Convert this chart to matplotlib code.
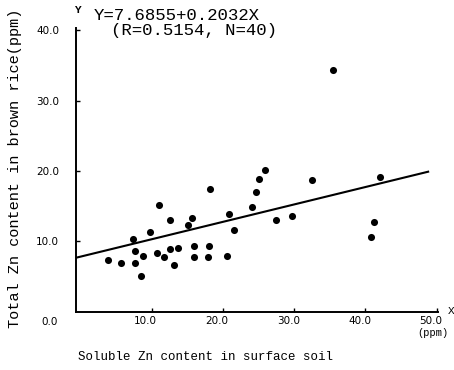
import matplotlib
matplotlib.use("Agg")
import matplotlib.pyplot as plt
from matplotlib.transforms import ScaledTranslation

# Data
soil_zn = [3.8, 5.7, 7.4, 7.6, 7.7, 8.5, 8.8, 9.8, 11.0, 10.7, 11.7, 12.6, 12.5,
           13.1, 13.7, 15.1, 15.7, 16.0, 15.9, 18.2, 18.0, 17.9, 20.6, 20.9, 21.5,
           24.1, 24.7, 25.0, 25.9, 27.5, 29.7, 32.5, 35.5, 42.0, 41.2, 40.8]
rice_zn = [7.4, 7.0, 10.4, 8.6, 7.0, 5.1, 7.9, 11.4, 15.2, 8.4, 7.8, 13.1, 8.9,
           6.7, 9.1, 12.3, 13.3, 9.4, 7.8, 17.4, 9.3, 7.8, 7.9, 13.9, 11.6,
           14.9, 17.0, 18.8, 20.1, 13.0, 13.6, 18.7, 34.3, 19.1, 12.7, 10.7]
line_x = [-0.6, 48.8]
line_y = [7.7, 19.9]
x_ticks = [10, 20, 30, 40, 50]
x_ticklabels = ["10.0", "20.0", "30.0", "40.0", "50.0"]
y_ticks = [10, 20, 30, 40]
y_ticklabels = ["10.0", "20.0", "30.0", "40.0"]

mono = "Liberation Mono"

fig = plt.figure(figsize=(4.54, 3.70), dpi=100)
ax = fig.add_axes([0.167, 0.1568, 0.798, 0.7678])
ax.set_xlim(-0.65, 50.2)
ax.set_ylim(0, 40.3)

ax.scatter(soil_zn, rice_zn, s=26, color="black", zorder=3, linewidths=0)
ax.plot(line_x, line_y, color="black", lw=1.5)

for s in ["top", "right"]:
    ax.spines[s].set_visible(False)
for s in ["left", "bottom"]:
    ax.spines[s].set_linewidth(1.4)

ax.set_xticks(x_ticks)
ax.set_xticklabels(x_ticklabels)
ax.set_yticks(y_ticks)
ax.set_yticklabels(y_ticklabels)
ax.tick_params(direction="in", length=3, width=1, labelsize=7.5)
ax.tick_params(axis="x", pad=3)
ax.tick_params(axis="y", pad=12)
shift = ScaledTranslation(-6 / 100, 0, fig.dpi_scale_trans)
for lab in ax.get_xticklabels():
    lab.set_fontfamily("DejaVu Sans")
    lab.set_transform(lab.get_transform() + shift)
for lab in ax.get_yticklabels():
    lab.set_fontfamily("DejaVu Sans")

# origin label and axis letters
fig.text(50 / 454, 1 - 322 / 370, "0.0", fontsize=7.5, ha="center", va="center")
fig.text(433 / 454, 1 - 333 / 370, "(ppm)", fontsize=7.5, family=mono, ha="center", va="center")
fig.text(451 / 454, 1 - 311 / 370, "X", fontsize=8, family=mono, ha="center", va="center")
fig.text(77 / 454, 1 - 10 / 370, "Y", fontsize=8, family=mono, ha="center", va="center", weight="bold")

fig.text(94 / 454, 1 - 16 / 370, "Y=7.6855+0.2032X", fontsize=12.5, family=mono,
         ha="left", va="center")
fig.text(111 / 454, 1 - 30 / 370, "(R=0.5154, N=40)", fontsize=12.5, family=mono,
         ha="left", va="center")

fig.text(15 / 454, 1 - 168 / 370, "Total Zn content in brown rice(ppm)", fontsize=11,
         family=mono, rotation=90, ha="center", va="center")
fig.text(205 / 454, 1 - 357 / 370, "Soluble Zn content in surface soil", fontsize=9,
         family=mono, ha="center", va="center")

fig.savefig("out.png", dpi=100)
